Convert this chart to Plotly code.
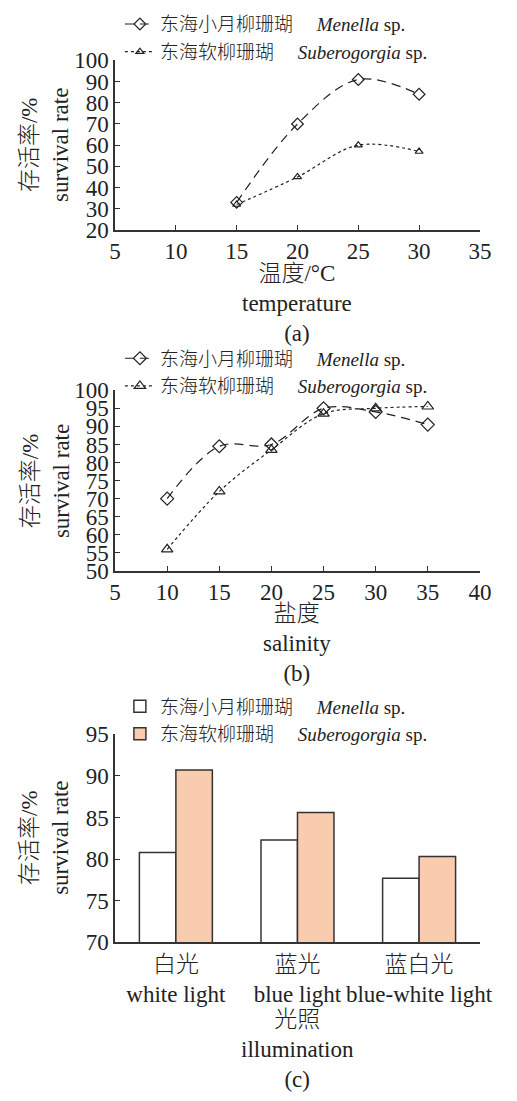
import plotly.graph_objects as go

W, H = 517, 1101
def px(p): return p / W
def py(p): return 1 - p / H

# ---- data ----
temp_x = [15, 20, 25, 30]
temp_menella = [33, 70, 91, 84]
temp_suber = [32, 45, 60, 57]

sal_x = [10, 15, 20, 25, 30, 35]
sal_menella = [70, 84.5, 85, 95, 94, 90.5]
sal_suber = [56, 72, 83.5, 93.5, 95, 95.5]

light_cats = ["白光<br>white light", "蓝光<br>blue light", "蓝白光<br>blue-white light"]
light_menella = [80.8, 82.3, 77.7]
light_suber = [90.7, 85.6, 80.3]

name_men = "东海小月柳珊瑚\u00a0\u00a0\u00a0\u00a0\u00a0<i>Menella</i> sp."
name_sub = "东海软柳珊瑚\u00a0\u00a0\u00a0\u00a0\u00a0<i>Suberogorgia</i> sp."

FONT = "Liberation Serif, Noto Sans CJK SC, serif"
TXT = "#222222"
AX = "#333333"
PEACH = "#F9CCB0"
WT = 300
DASH = "9px,6px"

fig = go.Figure()

# panel a
fig.add_trace(go.Scatter(x=temp_x, y=temp_menella, mode="lines+markers", name=name_men,
    line=dict(color=TXT, width=1.2, dash=DASH, shape="spline"),
    marker=dict(symbol="diamond-open", size=9, color=TXT, line=dict(width=1.2)),
    xaxis="x", yaxis="y", legend="legend"))
fig.add_trace(go.Scatter(x=temp_x, y=temp_suber, mode="lines+markers", name=name_sub,
    line=dict(color=TXT, width=1.2, dash="dot", shape="spline"),
    marker=dict(symbol="triangle-up-open", size=7, color=TXT, line=dict(width=1.2)),
    xaxis="x", yaxis="y", legend="legend"))
# panel b
fig.add_trace(go.Scatter(x=sal_x, y=sal_menella, mode="lines+markers", name=name_men,
    line=dict(color=TXT, width=1.2, dash=DASH, shape="spline"),
    marker=dict(symbol="diamond-open", size=10, color=TXT, line=dict(width=1.2)),
    xaxis="x2", yaxis="y2", legend="legend2"))
fig.add_trace(go.Scatter(x=sal_x, y=sal_suber, mode="lines+markers", name=name_sub,
    line=dict(color=TXT, width=1.2, dash="dot", shape="spline"),
    marker=dict(symbol="triangle-up-open", size=10, color=TXT, line=dict(width=1.2)),
    xaxis="x2", yaxis="y2", legend="legend2"))
# panel c
fig.add_trace(go.Bar(x=light_cats, y=light_menella, name=name_men,
    marker=dict(color="white", line=dict(color=AX, width=1.5)),
    xaxis="x3", yaxis="y3", legend="legend3"))
fig.add_trace(go.Bar(x=light_cats, y=light_suber, name=name_sub,
    marker=dict(color=PEACH, line=dict(color=AX, width=1.5)),
    xaxis="x3", yaxis="y3", legend="legend3"))

axcommon = dict(showline=True, linecolor=AX, linewidth=1.5, ticks="inside", ticklen=5,
                tickcolor=AX, tickwidth=1.2, showgrid=False, zeroline=False,
                tickfont=dict(family=FONT, size=23, color=TXT, weight=WT))

xd = [px(113), px(491)]
legfont = dict(family=FONT, size=19, color=TXT, weight=WT)
legcommon = dict(font=legfont, bgcolor="rgba(0,0,0,0)", xanchor="left", yanchor="top",
                 tracegroupgap=0, itemwidth=30)

fig.update_layout(
    width=W, height=H, margin=dict(l=0, r=0, t=0, b=0),
    paper_bgcolor="white", plot_bgcolor="white",
    font=dict(family=FONT, color=TXT, weight=WT),
    barmode="group", bargap=0.4, bargroupgap=0,
    showlegend=True,
    xaxis=dict(domain=xd, range=[5, 35], dtick=5, anchor="y", **axcommon),
    yaxis=dict(domain=[py(223), py(49.5)], range=[20, 100], dtick=10, anchor="x", **axcommon),
    xaxis2=dict(domain=xd, range=[5, 40], dtick=5, anchor="y2", **axcommon),
    yaxis2=dict(domain=[py(572), py(387)], range=[50, 100], dtick=5, anchor="x2", **axcommon),
    xaxis3=dict(domain=xd, range=[-0.5, 2.5], anchor="y3", type="category",
                **{**axcommon, "ticks": ""}),
    yaxis3=dict(domain=[py(952), py(739)], range=[70, 95], dtick=5, anchor="x3", **axcommon),
    legend=dict(x=px(118), y=py(-7), **legcommon),
    legend2=dict(x=px(118), y=py(335), **legcommon),
    legend3=dict(x=px(118), y=py(691), **legcommon),
)

ann = []
def ytitle(ymid):
    ann.append(dict(text="存活率/%", x=px(25), y=py(ymid), xref="paper", yref="paper",
                    textangle=-90, showarrow=False,
                    font=dict(family=FONT, size=23, color=TXT, weight=WT),
                    xanchor="center", yanchor="middle"))
    ann.append(dict(text="survival rate", x=px(57), y=py(ymid), xref="paper", yref="paper",
                    textangle=-90, showarrow=False,
                    font=dict(family=FONT, size=23, color=TXT, weight=WT),
                    xanchor="center", yanchor="middle"))
def xtitle(text, ymid):
    ann.append(dict(text=text, x=px(302), y=py(ymid), xref="paper", yref="paper",
                    showarrow=False, font=dict(family=FONT, size=23, color=TXT, weight=WT),
                    xanchor="center", yanchor="middle"))

ytitle(136)
ytitle(480)
ytitle(845)
xtitle("温度/°C<br>temperature<br>(a)", 298)
xtitle("盐度<br>salinity<br>(b)", 646)
xtitle("光照<br>illumination<br>(c)", 1062)
fig.update_layout(annotations=ann)

fig.write_html("out.html")
